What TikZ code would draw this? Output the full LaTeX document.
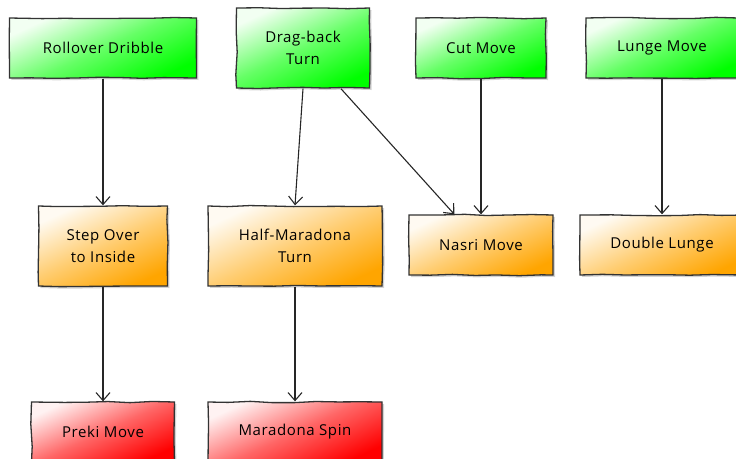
\documentclass[tikz,border=0pt]{standalone}
\usepackage{fontspec}
\setmainfont{Open Sans}[LetterSpace=4]
\usetikzlibrary{shapes,arrows,positioning,shadows,arrows.meta,decorations.pathmorphing}

\definecolor{movegreen}{RGB}{0,255,0}
\definecolor{moveorange}{RGB}{255,165,0}
\definecolor{movered}{RGB}{255,0,0}

\tikzset{
    move/.style={draw=black!80, line width=1.3pt, align=center,
        font=\fontsize{15}{22}\selectfont,
        decorate, decoration={random steps, segment length=22pt, amplitude=0.7pt},
        drop shadow={shadow xshift=2pt, shadow yshift=-2pt, opacity=0.35}},
    basic/.style={move, top color=movegreen!5!white, bottom color=movegreen, middle color=movegreen!60!white, shading angle=25},
    link/.style={move, top color=moveorange!5!white, bottom color=moveorange, middle color=moveorange!55!white, shading angle=25},
    finish/.style={move, top color=movered!5!white, bottom color=movered, middle color=movered!60!white, shading angle=25},
    flow/.style={-{Straight Barb[length=8pt,width=14pt]}, line width=1.1pt, black!85}
}

\begin{document}
\pgfmathsetseed{7}
\begin{tikzpicture}[x=1pt, y=-1pt]
    \useasboundingbox (0,0) rectangle (736,458);

    % Top row
    \node[basic, minimum width=187pt, minimum height=60pt] (rollover) at (103,48) {Rollover Dribble};
    \node[basic, minimum width=133pt, minimum height=80pt] (dragback) at (303,48) {Drag-back\\Turn};
    \node[basic, minimum width=130pt, minimum height=60pt] (cut) at (481,48) {Cut Move};
    \node[basic, minimum width=152pt, minimum height=60pt] (lunge) at (662,48) {Lunge Move};

    % Middle row
    \node[link, minimum width=129pt, minimum height=80pt] (stepover) at (103,246) {Step Over\\to Inside};
    \node[link, minimum width=174pt, minimum height=80pt] (halfmaradona) at (295,246) {Half-Maradona\\Turn};
    \node[link, minimum width=144pt, minimum height=60pt] (nasri) at (481,245) {Nasri Move};
    \node[link, minimum width=164pt, minimum height=60pt] (doublelunge) at (662,245) {Double Lunge};

    % Bottom row
    \node[finish, minimum width=143pt, minimum height=60pt] (preki) at (103,432) {Preki Move};
    \node[finish, minimum width=174pt, minimum height=60pt] (spin) at (295,432) {Maradona Spin};

    % Arrows
    \draw[flow] (rollover) -- (stepover);
    \draw[flow] (dragback.south) -- (halfmaradona.north);
    \draw[flow] (dragback.-47) -- (nasri.131);
    \draw[flow] (cut) -- (nasri);
    \draw[flow] (lunge) -- (doublelunge);
    \draw[flow] (stepover) -- (preki);
    \draw[flow] (halfmaradona) -- (spin);
\end{tikzpicture}
\end{document}
